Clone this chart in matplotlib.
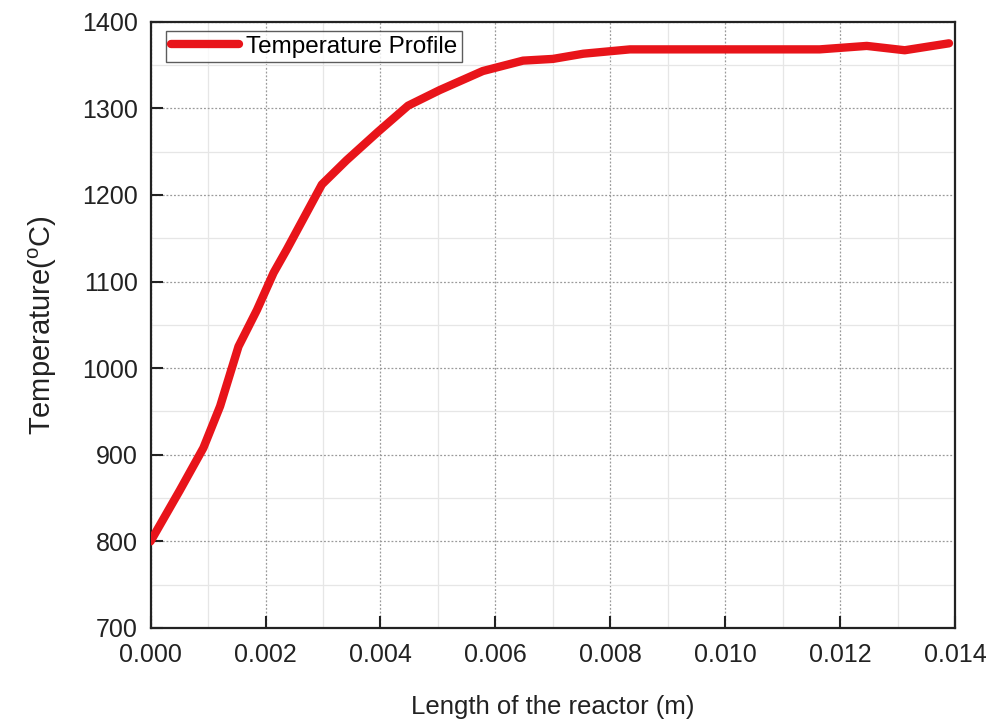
import matplotlib
matplotlib.use("Agg")
import matplotlib.pyplot as plt
from matplotlib.ticker import MultipleLocator, FormatStrFormatter

plt.rcParams['font.family'] = ['Liberation Sans', 'DejaVu Sans']

length_m = [0.0, 0.00051, 0.00092, 0.00121, 0.00153, 0.00185, 0.00214, 0.00237,
            0.00298, 0.00341, 0.00396, 0.00448, 0.00503, 0.00578, 0.00648, 0.00700,
            0.00753, 0.00834, 0.01164, 0.01246, 0.01312, 0.01389]
temperature_c = [800, 859, 908, 956, 1025, 1067, 1110, 1137,
                 1212, 1240, 1273, 1303, 1321, 1343, 1355, 1357,
                 1363, 1368, 1368, 1372, 1367, 1375]

fig = plt.figure(figsize=(9.95, 7.22), dpi=100)
ax = fig.add_axes([0.1513, 0.1302, 0.9601 - 0.1513, 0.970 - 0.1302])

ax.plot(length_m, temperature_c, color='#e8141a', lw=6.0, solid_capstyle='round',
        solid_joinstyle='round', label='Temperature Profile', zorder=3)

ax.set_xlim(0, 0.014)
ax.set_ylim(700, 1400)
ax.xaxis.set_major_locator(MultipleLocator(0.002))
ax.xaxis.set_minor_locator(MultipleLocator(0.001))
ax.yaxis.set_major_locator(MultipleLocator(100))
ax.yaxis.set_minor_locator(MultipleLocator(50))
ax.xaxis.set_major_formatter(FormatStrFormatter('%.3f'))

ax.grid(which='major', color='#9a9a9a', linestyle=(0, (1.5, 1.5)), lw=0.9, zorder=0)
ax.grid(which='minor', color='#e6e6e6', linestyle='-', lw=0.9, zorder=0)

ax.tick_params(which='major', direction='in', length=8.5, width=1.5, labelsize=18,
               top=False, right=False, colors='#222222', labelcolor='#222222')
ax.tick_params(axis='y', pad=9)
ax.tick_params(axis='x', pad=11)
ax.tick_params(which='minor', length=0)
for s in ax.spines.values():
    s.set_linewidth(1.6)
    s.set_color('#222222')

ax.set_xlabel('Length of the reactor (m)', fontsize=18.5, labelpad=20, color='#222222')
ax.set_ylabel('Temperature($\\mathregular{^o}$C)', fontsize=21, labelpad=17, color='#222222')

leg = ax.legend(loc='upper left', fontsize=17.5, frameon=True, fancybox=False,
                edgecolor='#333333', borderpad=0.2, handlelength=2.8,
                handletextpad=0.3, borderaxespad=0.0, bbox_to_anchor=(0.019, 0.985))
leg.get_frame().set_linewidth(1.0)

fig.savefig('out.png', dpi=100)
